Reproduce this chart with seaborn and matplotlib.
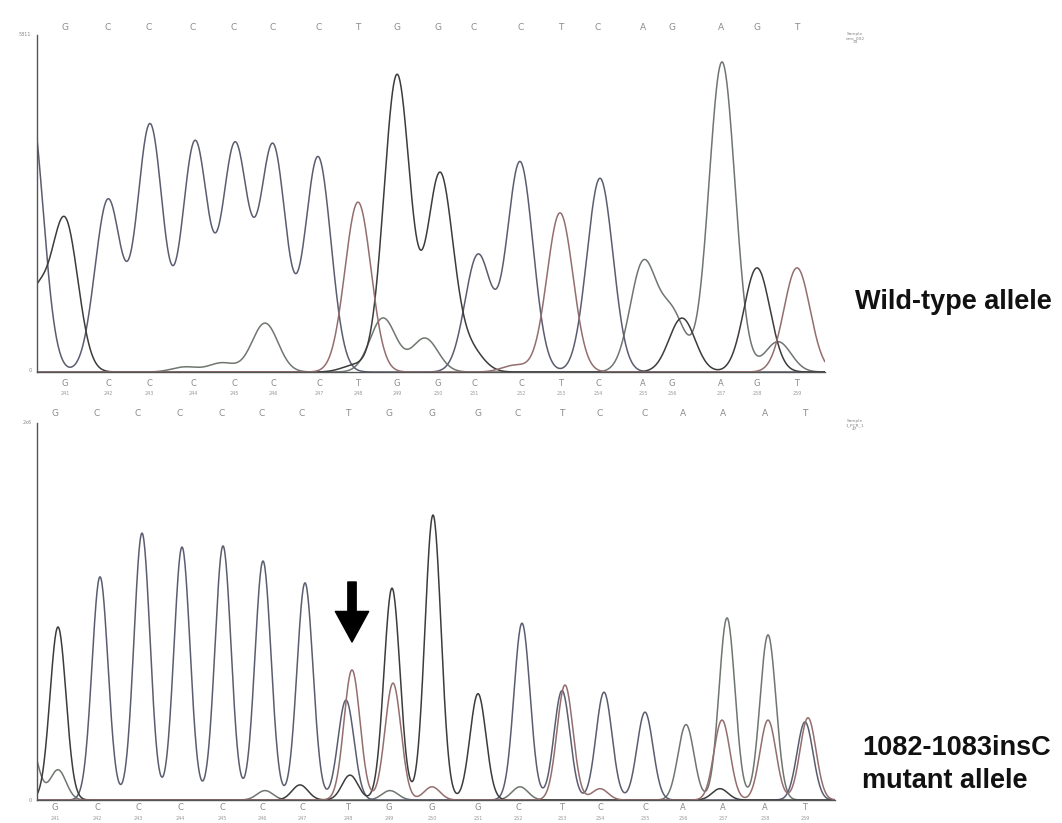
import numpy as np
import pandas as pd
import matplotlib
matplotlib.use("Agg")
import matplotlib.pyplot as plt
import matplotlib.transforms as mtransforms
import seaborn as sns

# ---------------- data ----------------
# called bases along the top of each trace and below each trace
top_seq = ["G", "C", "C", "C", "C", "C", "C", "T", "G", "G", "C", "C", "T", "C", "A", "G", "A", "G", "T"]
top_seq_x = [65, 108, 149, 193, 234, 273, 319, 358, 397, 438, 474, 521, 561, 598, 643, 672, 721, 757, 797]
top_num = [241, 242, 243, 244, 245, 246, 247, 248, 249, 250, 251, 252, 253, 254, 255, 256, 257, 258, 259]

bot_seq = ["G", "C", "C", "C", "C", "C", "C", "T", "G", "G", "G", "C", "T", "C", "C", "A", "A", "A", "T"]
bot_seq_x = [55, 97, 138, 180, 222, 262, 302, 348, 389, 432, 478, 518, 562, 600, 645, 683, 723, 765, 805]
bot_num = [241, 242, 243, 244, 245, 246, 247, 248, 249, 250, 251, 252, 253, 254, 255, 256, 257, 258, 259]

# peaks of the wild-type trace: channel, scan position, relative height
wt_base = ["C", "G", "G", "C", "C", "C", "C", "C", "C", "T", "G", "G", "C", "C", "T", "C", "A", "A", "G", "A", "G", "T",
           "A", "A", "A", "G", "A", "A", "G", "T", "C", "A"]
wt_pos = [30, 35, 65, 108, 150, 195, 235, 273, 318, 358, 397, 440, 478, 520, 560, 600, 643, 672, 682, 722, 757, 797,
          185, 222, 265, 355, 383, 425, 470, 515, 600, 778]
wt_height = [0.80, 0.22, 0.445, 0.51, 0.733, 0.68, 0.668, 0.668, 0.638, 0.504, 0.881, 0.585, 0.347, 0.623, 0.472,
             0.555, 0.318, 0.17, 0.16, 0.92, 0.309, 0.309,
             0.015, 0.027, 0.145, 0.02, 0.16, 0.10, 0.065, 0.02, 0.02, 0.09]

# peaks of the mutant trace
mut_base = ["G", "C", "C", "C", "C", "C", "C", "C", "T", "G", "G", "T", "G", "G", "C", "T", "C", "C", "C", "A", "A",
            "T", "A", "T", "T", "C", "A", "A", "G", "A", "T", "G", "A", "T", "G", "A"]
mut_pos = [58, 100, 142, 182, 223, 263, 305, 346, 352, 350, 392, 393, 433, 478, 522, 565, 562, 604, 645, 686, 727,
           722, 768, 768, 808, 805, 58, 265, 300, 390, 432, 478, 520, 600, 720, 30]
mut_height = [0.459, 0.592, 0.708, 0.671, 0.674, 0.634, 0.576, 0.265, 0.345, 0.066, 0.562, 0.31, 0.756, 0.257,
              0.469, 0.305, 0.29, 0.286, 0.233, 0.20, 0.483, 0.212, 0.438, 0.212, 0.218, 0.207,
              0.08, 0.025, 0.04, 0.025, 0.035, 0.025, 0.035, 0.03, 0.03, 0.15]

channel_colors = {"G": "#3c3c3c", "C": "#5a5d70", "T": "#946e6e", "A": "#6f766f"}


def trace_frame(bases, pos, heights, sigma, x0, x1):
    xs = np.arange(x0, x1 + 0.5, 0.5)
    rows = []
    for ch in ["A", "C", "G", "T"]:
        y = np.zeros_like(xs)
        for b, p, h in zip(bases, pos, heights):
            if b == ch:
                y += h * np.exp(-((xs - p) ** 2) / (2 * sigma ** 2))
        rows.append(pd.DataFrame({"scan": xs, "signal": y, "base": ch}))
    return pd.concat(rows, ignore_index=True)


sns.set_style("white")
plt.rcParams["font.family"] = ["DejaVu Sans"]

W, H = 1062, 823
fig = plt.figure(figsize=(W / 100, H / 100), dpi=100)
fig.patch.set_facecolor("white")


def px_axes(left, top, right, bottom):
    return fig.add_axes([left / W, 1 - bottom / H, (right - left) / W, (bottom - top) / H])


ax1 = px_axes(37, 35, 825, 372)
ax2 = px_axes(37, 423, 835, 800)

df1 = trace_frame(wt_base, wt_pos, wt_height, 13, 37, 825)
df2 = trace_frame(mut_base, mut_pos, mut_height, 8, 37, 835)

for ax, df, (x0, x1) in [(ax1, df1, (37, 825)), (ax2, df2, (37, 835))]:
    sns.lineplot(data=df, x="scan", y="signal", hue="base", palette=channel_colors,
                 estimator=None, sort=True, linewidth=1.1, legend=False, ax=ax)
    ax.set_xlim(x0, x1)
    ax.set_ylim(0, 1)
    ax.set_xlabel("")
    ax.set_ylabel("")
    ax.set_xticks([])
    ax.set_yticks([])
    for s in ["top", "right"]:
        ax.spines[s].set_visible(False)
    for s in ["left", "bottom"]:
        ax.spines[s].set_color("#555555")
        ax.spines[s].set_linewidth(1.0)
    ax.set_facecolor("none")


def seq_labels(ax, seq, xs, nums, y_top_px, y_low_px, y_num_px):
    tr = mtransforms.blended_transform_factory(ax.transData, fig.transFigure)
    for b, x in zip(seq, xs):
        ax.text(x, 1 - y_top_px / H, b, transform=tr, ha="center", va="center", fontsize=6.5, color="#8a8a8a")
    for b, x, n in zip(seq, xs, nums):
        ax.text(x, 1 - y_low_px / H, b, transform=tr, ha="center", va="center", fontsize=6, color="#8a8a8a")
        ax.text(x, 1 - y_num_px / H, str(n), transform=tr, ha="center", va="center", fontsize=3.5, color="#9a9a9a")


seq_labels(ax1, top_seq, top_seq_x, top_num, 27, 383, 393)
seq_labels(ax2, bot_seq, bot_seq_x, bot_num, 413, 808, 818)

# small axis annotations
fig.text(25 / W, 1 - 35 / H, "5811", fontsize=3.5, color="#888888", ha="center", va="center")
fig.text(30 / W, 1 - 370 / H, "0", fontsize=3.5, color="#888888", ha="center", va="center")
fig.text(27 / W, 1 - 422 / H, "2x6", fontsize=3.5, color="#888888", ha="center", va="center")
fig.text(30 / W, 1 - 800 / H, "0", fontsize=3.5, color="#888888", ha="center", va="center")
fig.text(855 / W, 1 - 38 / H, "Sample\nerro_002\n33", fontsize=3.2, color="#888888", ha="center", va="center",
         linespacing=1.1)
fig.text(855 / W, 1 - 425 / H, "Sample\n1_PCR_1\n47", fontsize=3.2, color="#888888", ha="center", va="center",
         linespacing=1.1)

# arrow marking the inserted C
ax2.annotate("", xy=(352, (800 - 642) / 377), xytext=(352, (800 - 582) / 377),
             arrowprops=dict(facecolor="black", edgecolor="black", width=6, headwidth=24, headlength=22,
                             shrink=0))

# allele labels
lab_kw = dict(fontsize=19.5, fontweight="bold", family="Liberation Sans", ha="left", va="center", color="#111111")
fig.text(855 / W, 1 - 302 / H, "Wild-type allele", **lab_kw)
fig.text(862 / W, 1 - 748 / H, "1082-1083insC", **lab_kw)
fig.text(862 / W, 1 - 781 / H, "mutant allele", **lab_kw)

fig.savefig("out.png", dpi=100, facecolor="white")
